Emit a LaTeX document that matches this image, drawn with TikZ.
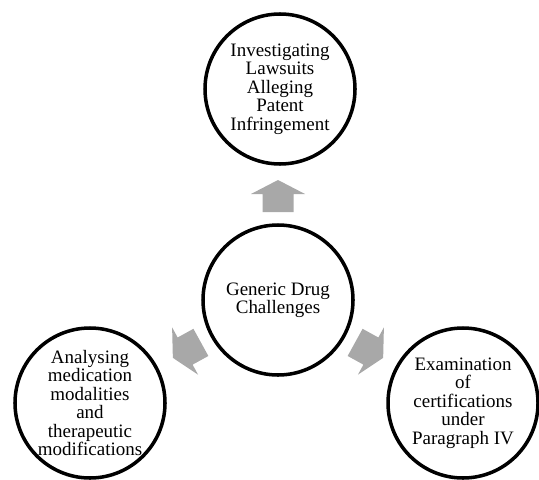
\documentclass[tikz,border=0pt]{standalone}
\usepackage{fontspec}
\setmainfont{Liberation Serif}
\usepackage{tikz}
\usetikzlibrary{positioning}
\definecolor{arrowgray}{RGB}{168,168,168}
\tikzstyle{bubble} = [draw, circle, line width=2pt, minimum size=3.0cm, inner sep=0pt, align=center]
\tikzset{blockarrow/.pic={
	\fill[arrowgray] (-0.32,-0.31) -- (0.04,-0.31) -- (0.04,-0.54) -- (0.32,0)
		-- (0.04,0.54) -- (0.04,0.31) -- (-0.32,0.31) -- cycle;
}}

\begin{document}
\begin{tikzpicture}
	\tikzstyle{every node}=[font=\fontsize{10.8}{10.5}\selectfont]
	\useasboundingbox (0,0) rectangle (10.78,9.58);
	
	% ------------------- Circles ------------------- %
	\node[bubble] (generic) at (5.56,3.58) {Generic Drug\\Challenges};
	\node[bubble] (lawsuits) at (5.60,7.80) {Investigating\\Lawsuits\\Alleging\\Patent\\Infringement};
	\node[bubble] (analysing) at (1.80,1.52) {Analysing\\medication\\modalities\\and\\therapeutic\\modifications};
	\node[bubble] (examination) at (9.26,1.52) {Examination\\of\\certifications\\under\\Paragraph IV};
	
	% ------------------- Block arrows ------------------- %
	\path (generic.center) ++(90:2.08) pic[rotate=90] {blockarrow};
	\path (generic.center) ++(208.8:2.08) pic[rotate=208.8] {blockarrow};
	\path (generic.center) ++(-28.8:2.08) pic[rotate=-28.8] {blockarrow};
\end{tikzpicture}
\end{document}
